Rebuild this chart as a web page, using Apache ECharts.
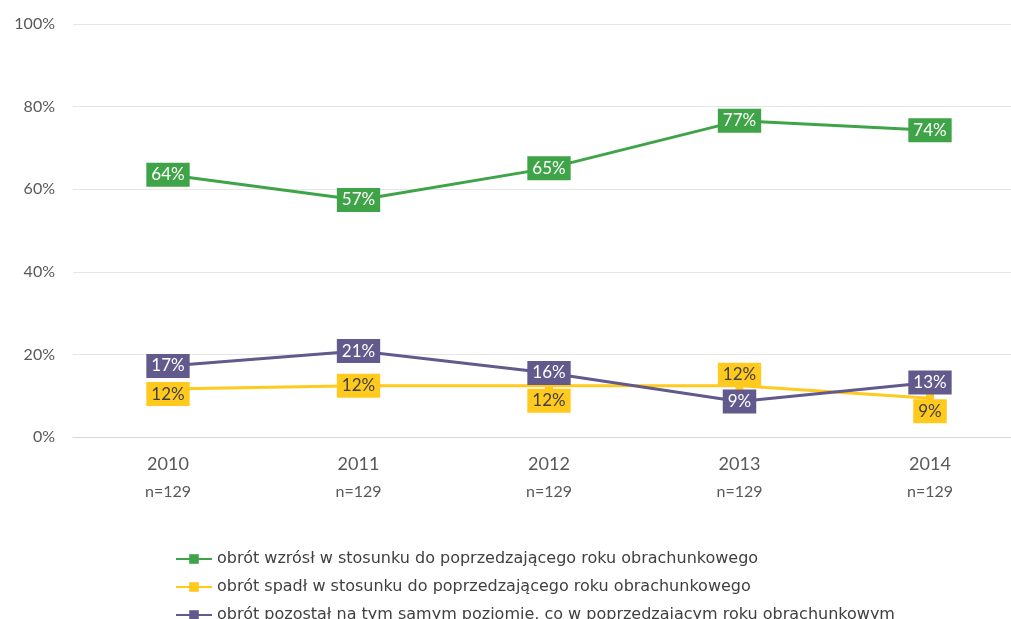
<!DOCTYPE html>
<html>
<head>
<meta charset="utf-8">
<script src="https://cdn.jsdelivr.net/npm/echarts@6/dist/echarts.min.js"></script>
<style>
  html, body { margin: 0; padding: 0; background: #fff; }
  #main { width: 1011px; height: 619px; }
</style>
</head>
<body>
<div id="main"></div>
<script>
var years = ['2010', '2011', '2012', '2013', '2014'];
var sampleN = ['n=129', 'n=129', 'n=129', 'n=129', 'n=129'];
var seriesNames = [
  'obrót wzrósł w stosunku do poprzedzającego roku obrachunkowego',
  'obrót spadł w stosunku do poprzedzającego roku obrachunkowego',
  'obrót pozostał na tym samym poziomie, co w poprzedzającym roku obrachunkowym'
];
var grew = [63.5, 57.4, 65.1, 76.6, 74.3];
var fell = [11.6, 12.4, 12.4, 12.4, 9.4];
var same = [17.2, 20.8, 15.5, 8.6, 13.2];
var yTicks = [0, 20, 40, 60, 80, 100];

// label offsets (px) per point, to keep the boxes apart like the original
var fellOffsets = [[0, 5], [0, 0], [0, 15], [0, -11], [0, 13]];

var colors = ['#3fa447', '#ffc91e', '#625a8c'];
var font = 'Lato, "DejaVu Sans", sans-serif';

function labelStyle(bg, fg) {
  return {
    show: true,
    position: 'inside',
    formatter: function (p) { return Math.round(p.value) + '%'; },
    backgroundColor: bg,
    color: fg,
    fontFamily: font,
    fontSize: 17,
    padding: [4, 5, 3, 5]
  };
}

var fellData = fell.map(function (v, i) {
  return { value: v, label: { offset: fellOffsets[i] } };
});

function lineSeries(idx, data, fg, z) {
  return {
    name: seriesNames[idx],
    type: 'line',
    xAxisIndex: 1,
    yAxisIndex: 1,
    data: data,
    symbol: 'rect',
    symbolSize: 8,
    lineStyle: { width: 3 },
    label: labelStyle(colors[idx], fg),
    z: z
  };
}

var mychart = echarts.init(document.getElementById('main'));
var option = {
  animation: false,
  color: colors,
  grid: [
    // background grid: gridlines + y labels across the full width
    { left: 73, top: 24, right: 0, height: 413 },
    // plotting grid: category centres at 168 ... 930
    { left: 168, top: 24, right: 81, height: 413 }
  ],
  legend: {
    orient: 'vertical',
    left: 170,
    top: 546,
    height: 100,
    itemGap: 12,
    itemWidth: 36,
    itemHeight: 12,
    textStyle: { fontFamily: '"DejaVu Sans", sans-serif', fontSize: 16, color: '#404040' },
    data: seriesNames
  },
  xAxis: [
    {
      gridIndex: 0,
      type: 'category',
      data: years,
      axisLine: { lineStyle: { color: '#d9d9d9', width: 1 } },
      axisTick: { show: false },
      axisLabel: { show: false }
    },
    {
      gridIndex: 1,
      type: 'category',
      data: years,
      boundaryGap: false,
      axisLine: { show: false },
      axisTick: { show: false },
      axisLabel: {
        margin: 14,
        fontFamily: font,
        lineHeight: 27,
        formatter: function (v, i) { return '{y|' + v + '}\n{n|' + sampleN[i] + '}'; },
        rich: {
          y: { fontSize: 18, color: '#595959', fontFamily: font },
          n: { fontSize: 16, color: '#595959', fontFamily: font }
        }
      }
    }
  ],
  yAxis: [
    {
      gridIndex: 0,
      type: 'value',
      min: yTicks[0],
      max: yTicks[yTicks.length - 1],
      interval: 20,
      axisLine: { show: false },
      axisTick: { show: false },
      splitLine: { lineStyle: { color: '#e6e6e6', width: 1 } },
      axisLabel: {
        margin: 18,
        fontFamily: font,
        fontSize: 16,
        color: '#595959',
        formatter: '{value}%'
      }
    },
    {
      gridIndex: 1,
      type: 'value',
      min: yTicks[0],
      max: yTicks[yTicks.length - 1],
      interval: 20,
      show: false,
      splitLine: { show: false }
    }
  ],
  series: [
    lineSeries(0, grew, '#ffffff', 3),
    lineSeries(1, fellData, '#404040', 2),
    lineSeries(2, same, '#ffffff', 3)
  ]
};
mychart.setOption(option);
</script>
</body>
</html>
